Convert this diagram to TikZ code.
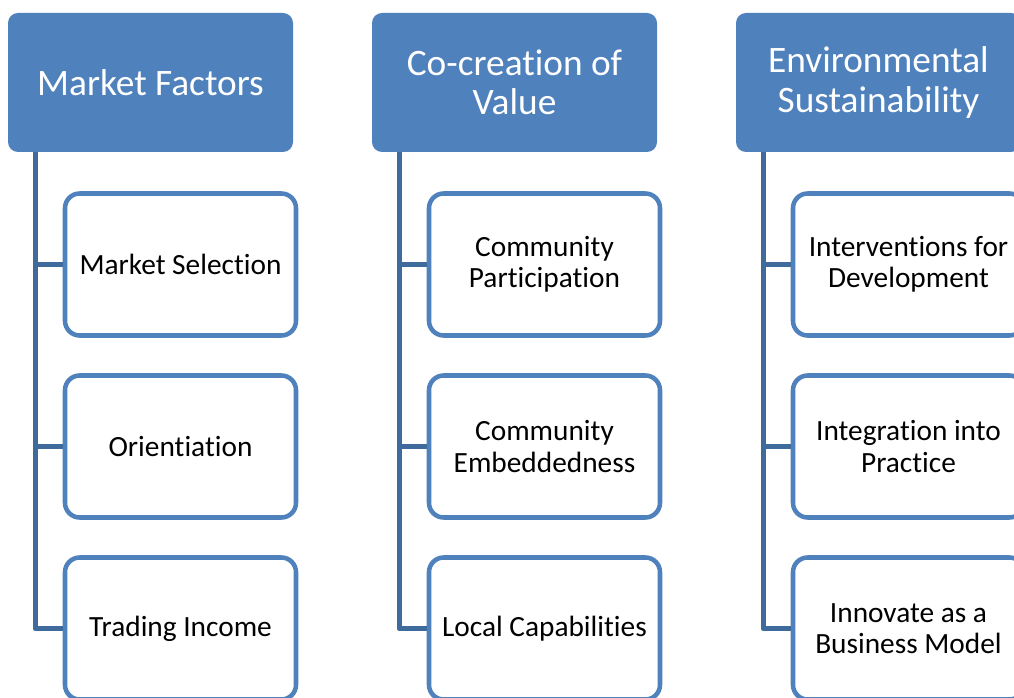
\documentclass[tikz,border=0pt]{standalone}
\usepackage{fontspec}
\setmainfont{Carlito}[Ligatures={NoCommon}]
\definecolor{headblue}{HTML}{4F81BD}
\definecolor{linkblue}{HTML}{3F6B9C}
\tikzset{
  head/.style={rectangle, rounded corners=7.5pt, fill=headblue, text=white,
    minimum width=213.75pt, minimum height=104.25pt, align=center,
    font=\fontsize{28}{29.5}\selectfont},
  item/.style={rectangle, rounded corners=11pt, draw=headblue, line width=3.4pt,
    fill=white, minimum width=173.25pt, minimum height=106.5pt, align=center,
    font=\fontsize{22}{23.5}\selectfont},
  link/.style={draw=linkblue, line width=3.75pt, line join=round}
}
\begin{document}
\begin{tikzpicture}[x=0.75pt,y=-0.75pt]
  \useasboundingbox (0,0) rectangle (1014,698);
  % headers
  \node[head] (h0) at (150.5,82.5) {Market Factors};
  \node[head] (h1) at (514.5,82.5) {Co-creation of\\Value};
  \node[head] (h2) at (878.5,82.5) {Environmental\\Sustainability};
  % items
  \node[item] (c01) at (180.5,264.5) {Market Selection};
  \node[item] (c02) at (180.5,446.5) {Orientiation};
  \node[item] (c03) at (180.5,628.5) {Trading Income};
  \node[item] (c11) at (544.5,264.5) {Community\\Participation};
  \node[item] (c12) at (544.5,446.5) {Community\\Embeddedness};
  \node[item] (c13) at (544.5,628.5) {Local Capabilities};
  \node[item] (c21) at (908.5,264.5) {Interventions for\\Development};
  \node[item] (c22) at (908.5,446.5) {Integration into\\Practice};
  \node[item] (c23) at (908.5,628.5) {Innovate as a\\Business Model};
  % connectors
  \foreach \i in {0,1,2} {
    \coordinate (t\i) at (35+364*\i,152);
    \draw[link] (t\i) |- (c\i3.west);
    \draw[link] (t\i |- c\i1.west) -- (c\i1.west);
    \draw[link] (t\i |- c\i2.west) -- (c\i2.west);
  }
\end{tikzpicture}
\end{document}
